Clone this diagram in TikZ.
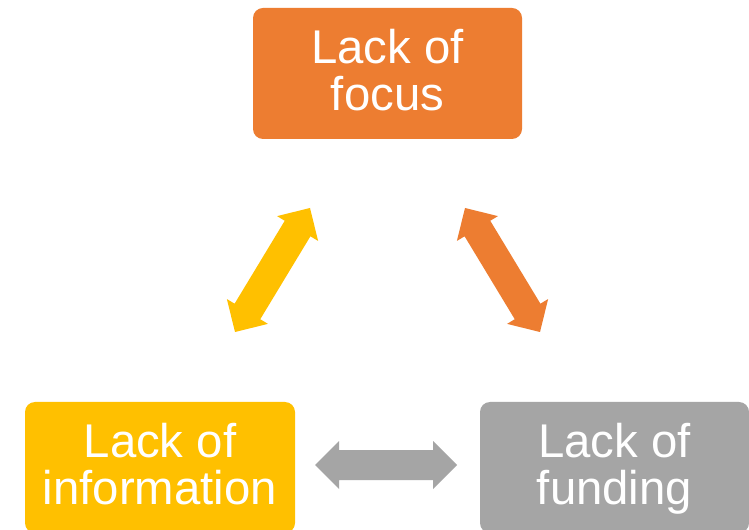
\documentclass[tikz,border=0pt]{standalone}
\usepackage{fontspec}
\setmainfont{Liberation Sans}
\usetikzlibrary{calc}

\definecolor{focusorange}{RGB}{237,125,49}
\definecolor{infoyellow}{RGB}{255,192,0}
\definecolor{fundgrey}{RGB}{165,165,165}

% two-headed block arrow between two points: #1 start, #2 end, #3 colour
\newcommand{\twowayarrow}[3]{%
  \fill[#3] (#1)
    -- ($(#1)!18pt!(#2)!18pt!90:(#2)$)
    -- ($(#1)!18pt!(#2)!11.25pt!90:(#2)$)
    -- ($(#2)!18pt!(#1)!11.25pt!-90:(#1)$)
    -- ($(#2)!18pt!(#1)!18pt!-90:(#1)$)
    -- (#2)
    -- ($(#2)!18pt!(#1)!18pt!90:(#1)$)
    -- ($(#2)!18pt!(#1)!11.25pt!90:(#1)$)
    -- ($(#1)!18pt!(#2)!11.25pt!-90:(#2)$)
    -- ($(#1)!18pt!(#2)!18pt!-90:(#2)$)
    -- cycle;}

\tikzset{
  causebox/.style={rounded corners=7.5pt, minimum width=201.75pt, minimum height=98.25pt,
    inner sep=0pt, align=center, text=white, text depth=6pt,
    font=\fontsize{35.5}{35.25}\selectfont}
}

\begin{document}
\begin{tikzpicture}[x=0.75pt,y=0.75pt,yscale=-1,xscale=1]
\useasboundingbox (0,0) rectangle (749,530);
\fill[white] (0,0) rectangle (749,530);

%Shape: Rounded Rect [id:focus]
\node[causebox, fill=focusorange] (focus) at (387.5,73.5) {Lack of\\focus};
%Shape: Rounded Rect [id:info]
\node[causebox, fill=infoyellow, minimum width=202.5pt] (info) at (160,467.5) {Lack of\\information};
%Shape: Rounded Rect [id:funding]
\node[causebox, fill=fundgrey] (funding) at (614.5,467.5) {Lack of\\funding};

% arrow end points
\coordinate (info-up) at (235,332);
\coordinate (focus-left) at (310,208);
\coordinate (focus-right) at (465,208);
\coordinate (funding-up) at (540,332);
\coordinate (info-right) at (315,465);
\coordinate (funding-left) at (457,465);

%Shape: Double Arrow
\twowayarrow{info-up}{focus-left}{infoyellow}
%Shape: Double Arrow
\twowayarrow{focus-right}{funding-up}{focusorange}
%Shape: Double Arrow
\twowayarrow{info-right}{funding-left}{fundgrey}

\end{tikzpicture}
\end{document}
